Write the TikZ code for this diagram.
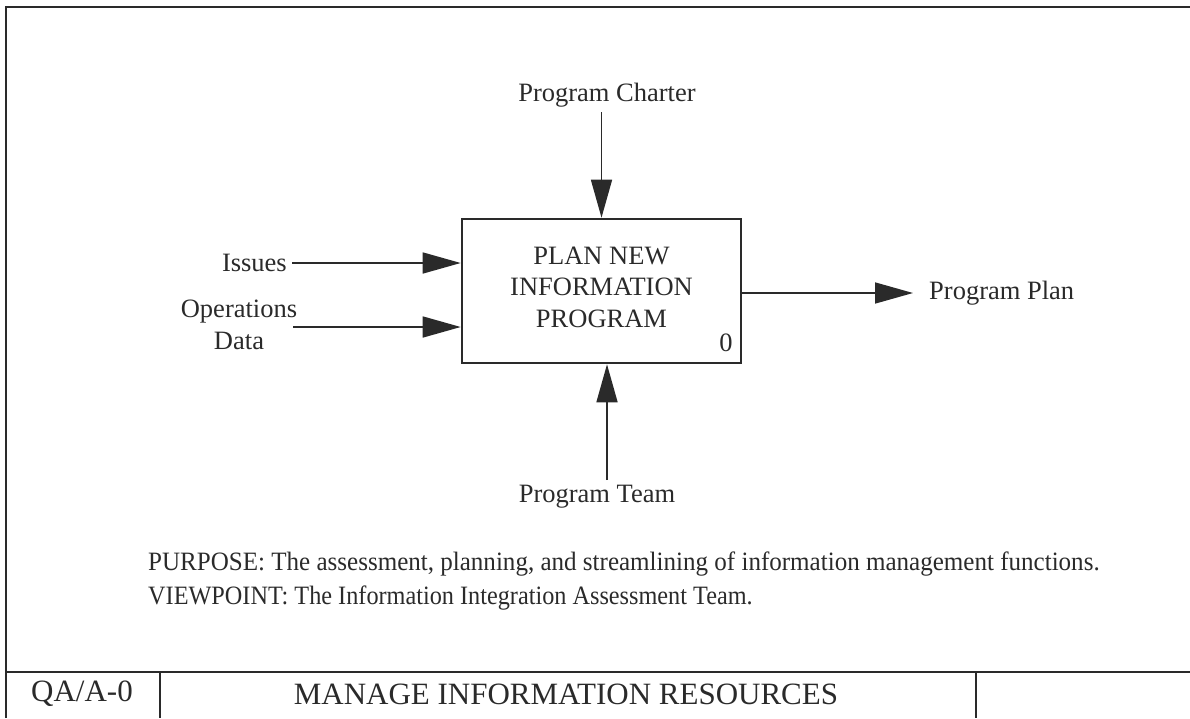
\documentclass[tikz,border=0pt]{standalone}
\usepackage{fontspec}
\setmainfont{Liberation Serif}
\usetikzlibrary{arrows.meta}
\definecolor{ink}{HTML}{2A2A2A}
\tikzset{
  arr/.style={-{Triangle[length=38pt,width=21pt]}, line width=1.6pt, draw=ink},
  lbl/.style={inner sep=0pt, text=ink, font=\fontsize{26.5}{31.5}\selectfont},
  big/.style={inner sep=0pt, text=ink, font=\fontsize{31}{36}\selectfont},
  frame/.style={line width=2.4pt, draw=ink}
}
\begin{document}
\begin{tikzpicture}[x=1pt,y=-1pt]
\useasboundingbox (0,0) rectangle (1190,718);
% frame
\draw[frame] (6,718) -- (6,7) -- (1190,7);
\draw[frame] (6,672) -- (1190,672);
\draw[frame] (160,672) -- (160,718);
\draw[frame] (976,672) -- (976,718);
% activity box
\node[draw=ink, line width=2.6pt, minimum width=279pt, minimum height=144pt, inner sep=0pt] (box) at (601.5,291) {};
\node[lbl, align=center] (title) at (601.5,287) {PLAN NEW\\INFORMATION\\PROGRAM};
\node[lbl] (num) at (726,343) {0};
% control
\node[lbl] (charter) at (607,95) {Program Charter};
\coordinate (ctop) at (601.5,112);
\draw[arr] (ctop) -- (box.north);
% mechanism
\node[lbl] (team) at (597,497) {Program Team};
\coordinate (mbot) at (607,480);
\draw[arr] (mbot) -- (mbot |- box.south);
% inputs
\node[lbl, anchor=east] (issues) at (287,263) {Issues};
\draw[arr] ([xshift=5pt]issues.east) -- (box.west |- issues.east);
\node[lbl, align=center] (ops) at (239,325) {Operations\\Data};
\coordinate (opsend) at (293,327);
\draw[arr] (opsend) -- (box.west |- opsend);
% output
\node[lbl, anchor=west] (plan) at (929,293) {Program Plan};
\coordinate (outstart) at (box.east |- plan.west);
\draw[arr] (outstart) -- ([xshift=-16pt]plan.west);
% purpose
\node[lbl, anchor=west] (purpose) at (148,564) {\scalebox{0.945}[1]{PURPOSE: The assessment, planning, and streamlining of information management functions.}};
\node[lbl, anchor=west] (viewpoint) at (148,598) {\scalebox{0.915}[1]{VIEWPOINT: The Information Integration Assessment Team.}};
% title strip
\node[big] (nodeno) at (82,694) {QA/A-0};
\node[big] (ttl) at (566,694) {MANAGE INFORMATION RESOURCES};
\end{tikzpicture}
\end{document}
